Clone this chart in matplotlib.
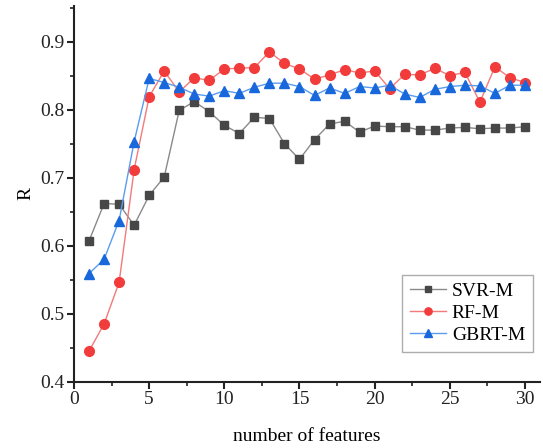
import matplotlib
matplotlib.use("Agg")
import matplotlib.pyplot as plt
from matplotlib.ticker import MultipleLocator

plt.rcParams['font.family'] = ['Liberation Serif', 'DejaVu Serif']

n_features = list(range(1, 31))

svr_m = [0.607, 0.662, 0.661, 0.630, 0.674, 0.701, 0.799, 0.812, 0.797, 0.777,
         0.765, 0.789, 0.787, 0.750, 0.727, 0.756, 0.779, 0.783, 0.767, 0.776,
         0.775, 0.775, 0.770, 0.770, 0.773, 0.774, 0.772, 0.773, 0.773, 0.775]

rf_m = [0.445, 0.485, 0.546, 0.712, 0.819, 0.857, 0.826, 0.847, 0.843, 0.860,
        0.861, 0.862, 0.885, 0.868, 0.860, 0.845, 0.851, 0.859, 0.854, 0.857,
        0.831, 0.852, 0.851, 0.861, 0.850, 0.855, 0.811, 0.863, 0.847, 0.840]

gbrt_m = [0.559, 0.580, 0.637, 0.753, 0.846, 0.840, 0.833, 0.823, 0.820, 0.828,
          0.824, 0.833, 0.839, 0.839, 0.834, 0.821, 0.832, 0.824, 0.834, 0.832,
          0.836, 0.823, 0.818, 0.830, 0.834, 0.836, 0.835, 0.824, 0.836, 0.836]

fig = plt.figure(figsize=(5.43, 4.48), dpi=100)
ax = fig.add_axes([0.1363, 0.148, 0.8582, 0.8386])

ax.plot(n_features, svr_m, color='#8a8a8a', lw=1.0, marker='s', ms=6,
        mfc='#474747', mec='#474747', label='SVR-M')
ax.plot(n_features, rf_m, color='#f47a7a', lw=1.0, marker='o', ms=7,
        mfc='#f23c3c', mec='#f23c3c', label='RF-M')
ax.plot(n_features, gbrt_m, color='#5a9cf0', lw=1.0, marker='^', ms=7.5,
        mfc='#1868dc', mec='#1868dc', label='GBRT-M')

ax.set_xlim(0, 31)
ax.set_ylim(0.4, 0.9525)
ax.xaxis.set_major_locator(MultipleLocator(5))
ax.xaxis.set_minor_locator(MultipleLocator(2.5))
ax.yaxis.set_minor_locator(MultipleLocator(0.05))
ax.set_yticks([0.4, 0.5, 0.6, 0.7, 0.8, 0.9])
ax.set_yticklabels(['0.4', '0.5', '0.6', '0.7', '0.8', '0.9'])

for side in ('top', 'right'):
    ax.spines[side].set_visible(False)
for side in ('left', 'bottom'):
    ax.spines[side].set_linewidth(1.5)
    ax.spines[side].set_color('#222222')

ax.tick_params(which='major', direction='out', length=5, width=1.5,
               labelsize=14, colors='#222222', pad=2)
ax.tick_params(which='minor', direction='out', length=3, width=1.2,
               colors='#222222')

ax.set_xlabel('number of features', fontsize=14, labelpad=14)
ax.set_ylabel('R', fontsize=14, labelpad=4)

leg = ax.legend(loc='lower right', bbox_to_anchor=(0.985, 0.08), fontsize=14,
                frameon=True, fancybox=False, edgecolor='#999999',
                handlelength=1.85, handletextpad=0.3, borderpad=0.4,
                labelspacing=0.22, borderaxespad=0.0, markerscale=0.75)
leg.get_frame().set_linewidth(1.0)

fig.savefig('out.png', dpi=100)
